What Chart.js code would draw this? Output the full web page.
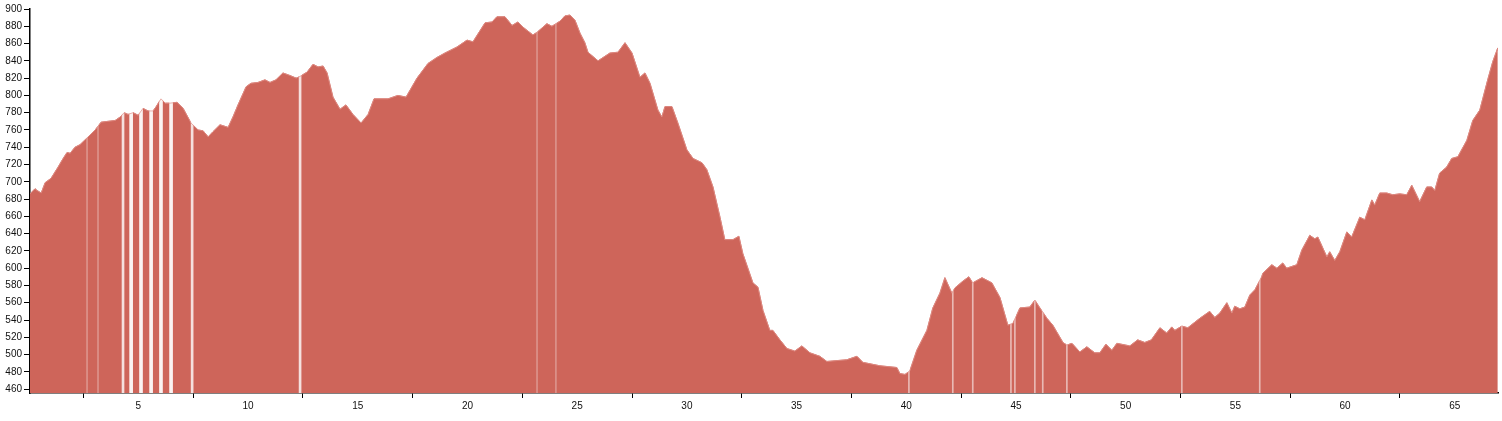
<!DOCTYPE html>
<html>
<head>
<meta charset="utf-8">
<script src="https://cdn.jsdelivr.net/npm/chart.js@4/dist/chart.umd.min.js"></script>
<style>
  html, body { margin: 0; padding: 0; background: #fff; }
  #profile { display: block; }
</style>
</head>
<body>
<canvas id="profile" width="1502" height="421"></canvas>
<script>
// distance along the route (km) and elevation (m)
const distanceKm = [
  0.06, 0.29, 0.38, 0.57, 0.75, 1.02, 1.34, 1.57, 1.75, 1.89, 2.11, 2.34, 2.71, 3.03, 3.30, 3.62,
  3.94, 4.17, 4.35, 4.53, 4.76, 4.99, 5.21, 5.44, 5.67, 5.81, 6.03, 6.22, 6.44, 6.76, 7.04, 7.40,
  7.72, 7.95, 8.18, 8.40, 8.72, 9.09, 9.31, 9.54, 9.91, 10.13, 10.45, 10.77, 11.00, 11.27, 11.59, 11.91,
  12.19, 12.37, 12.69, 12.96, 13.19, 13.42, 13.60, 13.87, 14.19, 14.46, 14.78, 15.15, 15.47, 15.74, 16.38, 16.83,
  17.20, 17.70, 18.20, 18.61, 18.97, 19.52, 19.98, 20.25, 20.80, 21.12, 21.34, 21.71, 22.03, 22.30, 22.53, 22.98,
  23.17, 23.62, 23.85, 24.22, 24.44, 24.67, 24.90, 25.13, 25.35, 25.49, 25.95, 26.49, 26.86, 27.18, 27.50, 27.86,
  28.09, 28.32, 28.68, 28.86, 29.00, 29.32, 29.59, 30.00, 30.28, 30.69, 30.91, 31.19, 31.51, 31.73, 32.10, 32.37,
  32.55, 33.01, 33.24, 33.47, 33.78, 33.92, 34.24, 34.56, 34.92, 35.24, 35.61, 36.06, 36.38, 37.29, 37.75, 38.02,
  38.80, 39.57, 39.71, 39.94, 40.16, 40.48, 40.94, 41.21, 41.53, 41.76, 42.08, 42.21, 42.58, 42.85, 43.03, 43.45,
  43.90, 44.27, 44.63, 44.86, 45.18, 45.63, 45.86, 46.09, 46.41, 46.68, 47.14, 47.32, 47.55, 47.91, 48.23, 48.59,
  48.82, 49.10, 49.37, 49.60, 50.19, 50.55, 50.87, 51.17, 51.56, 51.87, 52.10, 52.24, 52.56, 52.83, 53.38, 53.83,
  54.06, 54.29, 54.61, 54.84, 54.97, 55.20, 55.43, 55.66, 55.89, 56.20, 56.25, 56.66, 56.89, 57.16, 57.34, 57.80,
  58.03, 58.39, 58.62, 58.76, 59.17, 59.30, 59.53, 59.76, 60.08, 60.30, 60.67, 60.90, 61.22, 61.35, 61.58, 61.90,
  62.17, 62.49, 62.81, 63.04, 63.40, 63.72, 63.95, 64.09, 64.31, 64.63, 64.86, 65.14, 65.55, 65.82, 66.14, 66.50,
  66.73, 66.96
];
const elevationM = [
  686, 692, 690, 687, 699, 704, 717, 727, 734, 733, 740, 743, 752, 760, 769, 770,
  771, 775, 780, 778, 780, 777, 785, 782, 782, 787, 796, 791, 791, 792, 785, 768,
  760, 759, 752, 758, 766, 763, 775, 789, 810, 814, 815, 818, 815, 818, 826, 823,
  820, 822, 827, 836, 833, 834, 826, 798, 784, 789, 778, 768, 778, 796, 796, 800,
  798, 820, 837, 844, 849, 856, 864, 862, 884, 885, 891, 891, 881, 885, 879, 870,
  873, 883, 880, 886, 892, 893, 887, 872, 861, 850, 840, 849, 850, 861, 849, 821,
  826, 814, 783, 775, 787, 787, 768, 737, 727, 722, 714, 694, 659, 633, 633, 637,
  617, 583, 578, 551, 528, 528, 517, 507, 504, 510, 502, 498, 492, 494, 498, 491,
  487, 485, 478, 477, 481, 505, 528, 554, 571, 589, 571, 577, 585, 590, 583, 589,
  583, 566, 534, 536, 554, 555, 563, 554, 542, 534, 514, 511, 513, 503, 509, 502,
  502, 512, 505, 513, 510, 517, 514, 517, 531, 525, 532, 528, 533, 531, 542, 550,
  543, 548, 560, 548, 556, 553, 555, 569, 575, 590, 594, 604, 600, 606, 600, 604,
  621, 638, 634, 636, 613, 619, 609, 619, 642, 636, 659, 656, 679, 673, 687, 687,
  685, 686, 685, 696, 677, 694, 694, 690, 710, 717, 727, 729, 748, 771, 783, 818,
  839, 855
];

// places where the track has missing samples (km)
const wideGapsKm = [4.67, 5.12, 5.58, 6.03, 6.49];
const gapsKm = [4.30, 7.45, 12.37];
const thinGapsKm = [40.12, 42.12, 43.03, 44.77, 44.95, 45.86, 46.22, 47.32, 52.56, 56.11];
const faintGapsKm = [2.66, 3.16, 23.17, 24.03];

const xTicks = [5, 10, 15, 20, 25, 30, 35, 40, 45, 50, 55, 60, 65];
const yTicks = [460, 480, 500, 520, 540, 560, 580, 600, 620, 640, 660, 680, 700, 720, 740, 760, 780, 800, 820, 840, 860, 880, 900];

const X_MIN = 0.06, X_MAX = 66.97;
const Y_MIN = 455.5, Y_MAX = 900;

const profile = distanceKm.map((d, i) => ({ x: d, y: elevationM[i] }));
const gapBars = arr => arr.map(d => ({ x: d, y: [Y_MIN, Y_MAX] }));

const fillColor = '#ce655a';
const axisFont = { family: '"Liberation Sans", Arial, sans-serif', size: 10 };

new Chart(document.getElementById('profile'), {
  type: 'line',
  data: {
    datasets: [
      {
        data: profile,
        borderColor: fillColor,
        borderWidth: 1,
        backgroundColor: fillColor,
        fill: 'start',
        pointRadius: 0,
        tension: 0,
        order: 5
      },
      { type: 'bar', data: gapBars(wideGapsKm), backgroundColor: 'rgba(255,255,255,0.92)', barThickness: 3, grouped: false, order: 4 },
      { type: 'bar', data: gapBars(gapsKm), backgroundColor: 'rgba(255,255,255,0.8)', barThickness: 2, grouped: false, order: 3 },
      { type: 'bar', data: gapBars(thinGapsKm), backgroundColor: 'rgba(255,255,255,0.55)', barThickness: 1, grouped: false, order: 3 },
      { type: 'bar', data: gapBars(faintGapsKm), backgroundColor: 'rgba(255,255,255,0.3)', barThickness: 1, grouped: false, order: 3 },
      {
        // thin outline so the top of the gaps stays visible
        data: profile,
        borderColor: 'rgba(226,150,143,0.7)',
        borderWidth: 1,
        fill: false,
        pointRadius: 0,
        tension: 0,
        order: 1
      }
    ]
  },
  options: {
    responsive: false,
    animation: false,
    events: [],
    layout: { padding: { left: 0, right: 4, top: 9, bottom: 0 } },
    plugins: { legend: { display: false }, tooltip: { enabled: false } },
    scales: {
      x: {
        type: 'linear',
        offset: false,
        min: X_MIN,
        max: X_MAX,
        afterBuildTicks: s => { s.ticks = xTicks.map(v => ({ value: v })); },
        afterFit: s => { s.height = 28; },
        ticks: { color: '#111', font: axisFont, padding: 2, maxRotation: 0, autoSkip: false },
        grid: { drawOnChartArea: false, drawTicks: true, tickLength: 5, color: '#000', lineWidth: 1 },
        border: { display: true, color: '#000', width: 1.5 }
      },
      y: {
        min: Y_MIN,
        max: Y_MAX,
        afterBuildTicks: s => { s.ticks = yTicks.map(v => ({ value: v })); },
        afterFit: s => { s.width = 30; },
        ticks: { color: '#111', font: axisFont, padding: 2, autoSkip: false },
        grid: { drawOnChartArea: false, drawTicks: true, tickLength: 6, color: '#000', lineWidth: 1 },
        border: { display: true, color: '#000', width: 1.5 }
      }
    }
  }
});
</script>
</body>
</html>
